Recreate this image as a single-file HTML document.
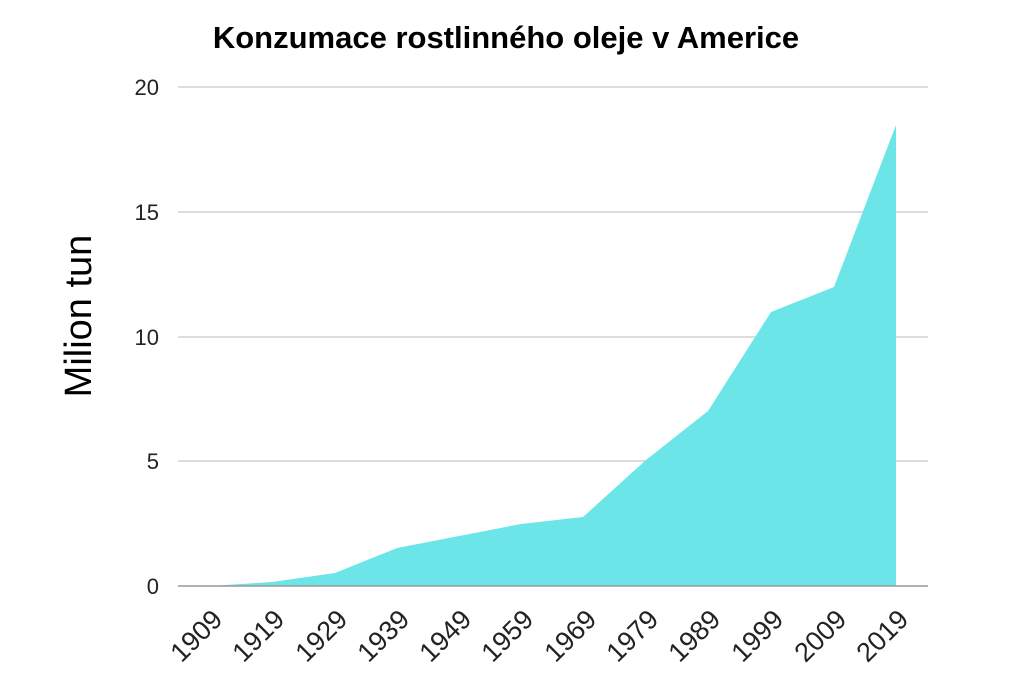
<!DOCTYPE html>
<html><head><meta charset="utf-8"><style>
body{margin:0;background:#fff;}
svg text{font-family:"Liberation Sans",sans-serif;}
</style></head><body>
<svg width="1024" height="687" viewBox="0 0 1024 687" xmlns="http://www.w3.org/2000/svg">
<rect width="1024" height="687" fill="#fff"/>
<text x="506" y="48" text-anchor="middle" font-size="31" font-weight="bold" fill="#000">Konzumace rostlinného oleje v Americe</text>
<g stroke="#d0d0d0" stroke-width="1.5">
<line x1="178" y1="87" x2="928" y2="87"/>
<line x1="178" y1="212" x2="928" y2="212"/>
<line x1="178" y1="337" x2="928" y2="337"/>
<line x1="178" y1="461" x2="928" y2="461"/>
</g>
<g font-size="22" fill="#222" text-anchor="end">
<text x="159" y="95">20</text>
<text x="159" y="220">15</text>
<text x="159" y="345">10</text>
<text x="159" y="469">5</text>
<text x="159" y="594">0</text>
</g>
<text transform="translate(91,316) rotate(-90)" text-anchor="middle" font-size="38" fill="#000">Milion tun</text>
<polygon fill="#6ce5e8" points="210,586 210,586 272,582 335,573 397,548 459,536 521,524 583,517 646,460 708,411 771,312 834,287 896,125 896,586"/>
<line x1="178" y1="586" x2="928" y2="586" stroke="#999" stroke-width="1.5"/>
<g font-size="27" fill="#222" text-anchor="end">
<text transform="translate(224,621) rotate(-45)">1909</text>
<text transform="translate(286,621) rotate(-45)">1919</text>
<text transform="translate(349,621) rotate(-45)">1929</text>
<text transform="translate(411,621) rotate(-45)">1939</text>
<text transform="translate(473,621) rotate(-45)">1949</text>
<text transform="translate(535,621) rotate(-45)">1959</text>
<text transform="translate(598,621) rotate(-45)">1969</text>
<text transform="translate(660,621) rotate(-45)">1979</text>
<text transform="translate(722,621) rotate(-45)">1989</text>
<text transform="translate(785,621) rotate(-45)">1999</text>
<text transform="translate(848,621) rotate(-45)">2009</text>
<text transform="translate(910,621) rotate(-45)">2019</text>
</g>
</svg>
</body></html>
